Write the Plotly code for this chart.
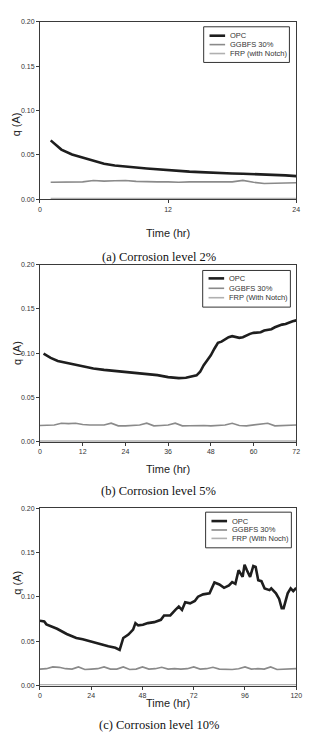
import plotly.graph_objects as go

W, H = 311, 742

# ---------------- Data ----------------
# Panel (a) Corrosion level 2%
t_a = list(range(1, 25))
opc_a = [0.0663, 0.0559, 0.0503, 0.0466, 0.0430, 0.0400, 0.0380, 0.0365, 0.0357, 0.0346,
         0.0335, 0.0328, 0.0317, 0.0310, 0.0305, 0.0298, 0.0294, 0.0290, 0.0287, 0.0283,
         0.0283, 0.0272, 0.0268, 0.0260]
ggbfs_a = [0.0190, 0.0190, 0.0190, 0.0195, 0.0210, 0.0203, 0.0207, 0.0210, 0.0200, 0.0195,
           0.0195, 0.0195, 0.0190, 0.0195, 0.0195, 0.0195, 0.0190, 0.0195, 0.0212, 0.0190,
           0.0177, 0.0182, 0.0182, 0.0185]
frp_a = [0.0008] * 24

# Panel (b) Corrosion level 5%
t_b_opc = [1, 3, 5, 8, 10, 12, 15, 18, 21, 24, 27, 30, 33, 36, 39, 41, 43, 44, 45, 46, 47,
           48, 49, 50, 51, 52, 53, 54, 55, 56, 57, 58, 59, 60, 61, 62, 63, 64, 65, 66, 67,
           68, 69, 70, 71, 72]
opc_b = [0.0994, 0.0946, 0.0912, 0.0886, 0.0868, 0.0849, 0.0827, 0.0812, 0.0801, 0.0790,
         0.0778, 0.0767, 0.0752, 0.0730, 0.0719, 0.0722, 0.0741, 0.0750, 0.0790, 0.0864,
         0.0920, 0.0976, 0.1050, 0.1117, 0.1130, 0.1155, 0.1180, 0.1192, 0.1180, 0.1173,
         0.1180, 0.1200, 0.1218, 0.1229, 0.1229, 0.1236, 0.1255, 0.1266, 0.1270, 0.1292,
         0.1310, 0.1322, 0.1330, 0.1348, 0.1360, 0.1370]
t_b = list(range(0, 73, 2))
ggbfs_b = [0.0185, 0.0185, 0.0190, 0.0210, 0.0205, 0.0210, 0.0195, 0.0190, 0.0190, 0.0190,
           0.0210, 0.0180, 0.0180, 0.0185, 0.0190, 0.0210, 0.0180, 0.0185, 0.0190, 0.0210,
           0.0180, 0.0182, 0.0185, 0.0185, 0.0180, 0.0185, 0.0190, 0.0210, 0.0185, 0.0180,
           0.0190, 0.0192, 0.0210, 0.0180, 0.0185, 0.0190, 0.0190]
frp_b = [0.0008] * len(t_b)

# Panel (c) Corrosion level 10%
t_c_opc = [0, 1, 2, 3, 5, 8, 12.5, 17, 20, 23, 26, 29, 32, 35.3, 37.3, 39, 41.4, 43.6, 44.7,
           46, 48.2, 50.5, 53.5, 56.6, 58.1, 61, 63.4, 65, 66.5, 68, 70.3, 72.5, 74, 76.4,
           79.4, 81.7, 84, 86.2, 88.5, 90, 91.5, 93, 94.9, 95.8, 96.9, 98.4, 99.9, 101,
           102.2, 103.7, 105.2, 107.5, 108.3, 110.5, 112, 113.2, 114.1, 116, 117.4, 118.6, 120]
opc_c = [0.0730, 0.0726, 0.0723, 0.0690, 0.0672, 0.0640, 0.0581, 0.0536, 0.0521, 0.0499,
         0.0480, 0.0462, 0.0443, 0.0425, 0.0402, 0.0536, 0.0574, 0.0630, 0.0704, 0.0678,
         0.0685, 0.0704, 0.0715, 0.0741, 0.0790, 0.0790, 0.0853, 0.0890, 0.0853, 0.0939,
         0.0927, 0.0953, 0.1002, 0.1028, 0.1040, 0.1162, 0.1140, 0.1102, 0.1128, 0.1166,
         0.1147, 0.1300, 0.1225, 0.1363, 0.1300, 0.1225, 0.1348, 0.1337, 0.1188, 0.1177,
         0.1095, 0.1076, 0.1095, 0.1040, 0.0976, 0.0872, 0.0872, 0.1040, 0.1095, 0.1065,
         0.1102]
t_c = list(range(0, 121, 3))
ggbfs_c = [0.0185, 0.0190, 0.0210, 0.0205, 0.0190, 0.0185, 0.0210, 0.0180, 0.0185, 0.0190,
           0.0210, 0.0185, 0.0185, 0.0210, 0.0180, 0.0185, 0.0210, 0.0185, 0.0190, 0.0205,
           0.0185, 0.0190, 0.0185, 0.0190, 0.0210, 0.0185, 0.0190, 0.0205, 0.0185, 0.0185,
           0.0180, 0.0190, 0.0210, 0.0185, 0.0190, 0.0185, 0.0210, 0.0180, 0.0185, 0.0190,
           0.0190]
frp_c = [0.0008] * len(t_c)

series_names = [
    ["OPC", "GGBFS 30%", "FRP (with Notch)"],
    ["OPC", "GGBFS 30%", "FRP (With Notch)"],
    ["OPC", "GGBFS 30%", "FRP (With Noch)"],
]
captions = ["(a) Corrosion level 2%", "(b) Corrosion level 5%", "(c) Corrosion level 10%"]
x_ranges = [24, 72, 120]
x_ticks = [[0, 12, 24], [0, 12, 24, 36, 48, 60, 72], [0, 24, 48, 72, 96, 120]]
y_ticks = [0.0, 0.05, 0.10, 0.15, 0.20]

# ---------------- Layout geometry (pixels) ----------------
plot_left, plot_right = 39, 302
panel_tops = [18, 263, 509]
panel_h = 179
# legend box (left, top, right, bottom) and entry rows
legend_boxes = [(207, 23, 295, 59), (206, 269, 296, 306), (209, 513, 297, 549)]
legend_rows = [(32, 41, 50), (277, 287, 296.5), (522, 531, 539.5)]
caption_y = [246, 492, 737]
xtitle_y = [223, 469, 714]

C_OPC = "#1e1e1e"
C_GG = "#8a8a8a"
C_FRP = "#b0b0b0"
AX = "#3a3a3a"
colors = [C_OPC, C_GG, C_FRP]
widths = [2.6, 1.6, 1.6]

fig = go.Figure()
panels = [
    (t_a, opc_a, t_a, ggbfs_a, frp_a),
    (t_b_opc, opc_b, t_b, ggbfs_b, frp_b),
    (t_c_opc, opc_c, t_c, ggbfs_c, frp_c),
]
for i, (to, yo, tg, yg, yf) in enumerate(panels):
    sfx = "" if i == 0 else str(i + 1)
    xa, ya = "x" + sfx, "y" + sfx
    for (xx, yy), nm, c, w in zip([(to, yo), (tg, yg), (tg, yf)], series_names[i], colors, widths):
        fig.add_trace(go.Scatter(x=xx, y=yy, mode="lines", name=nm,
                                 line=dict(color=c, width=w), xaxis=xa, yaxis=ya,
                                 showlegend=False))

def px(x):
    return x / W

def py(y):
    return 1 - y / H

layout = dict(
    width=W, height=H,
    margin=dict(l=0, r=0, t=0, b=0),
    paper_bgcolor="white", plot_bgcolor="white",
    font=dict(family="Liberation Sans, Arial, sans-serif", color="#333"),
    showlegend=False,
)
annotations = []
shapes = []
for i in range(3):
    sfx = "" if i == 0 else str(i + 1)
    top = panel_tops[i]
    bot = top + panel_h
    axis_common = dict(showgrid=False, zeroline=False, showline=True, linecolor=AX,
                       linewidth=1, mirror=True, ticks="outside", ticklen=3,
                       tickcolor=AX, tickfont=dict(size=7, color="#333"))
    layout["xaxis" + sfx] = dict(
        domain=[px(plot_left), px(plot_right)], range=[0, x_ranges[i]],
        tickvals=x_ticks[i], anchor="y" + sfx, **axis_common)
    layout["yaxis" + sfx] = dict(
        domain=[py(bot), py(top)], range=[0, 0.20], tickvals=y_ticks,
        tickformat=".2f", anchor="x" + sfx, **axis_common)

    # legend (drawn as box + sample lines + text)
    l, t, r, b = legend_boxes[i]
    shapes.append(dict(type="rect", xref="paper", yref="paper", x0=px(l), x1=px(r),
                       y0=py(b), y1=py(t), line=dict(color="#333", width=1),
                       fillcolor="white", layer="above"))
    for ry, nm, c, w in zip(legend_rows[i], series_names[i], colors, widths):
        shapes.append(dict(type="line", xref="paper", yref="paper", x0=px(l + 6),
                           x1=px(l + 22), y0=py(ry), y1=py(ry),
                           line=dict(color=c, width=w), layer="above"))
        annotations.append(dict(text=nm, x=px(l + 25), y=py(ry), xref="paper", yref="paper",
                                xanchor="left", yanchor="middle", showarrow=False,
                                font=dict(size=7.5, color="#333")))

    annotations.append(dict(text="Time (hr)", x=px((plot_left + plot_right) / 2),
                            y=py(xtitle_y[i]), xref="paper", yref="paper",
                            showarrow=False, font=dict(size=11, color="#222")))
    annotations.append(dict(text="q (A)", x=px(7), y=py(top + panel_h * 0.5),
                            xref="paper", yref="paper", textangle=-90, showarrow=False,
                            font=dict(size=11, color="#222")))
    annotations.append(dict(text=captions[i], x=px(161), y=py(caption_y[i]),
                            xref="paper", yref="paper", showarrow=False,
                            font=dict(size=12.5, family="Liberation Serif, Times New Roman, serif",
                                      color="#111")))
layout["annotations"] = annotations
layout["shapes"] = shapes
fig.update_layout(**layout)
fig.write_html("out.html")
